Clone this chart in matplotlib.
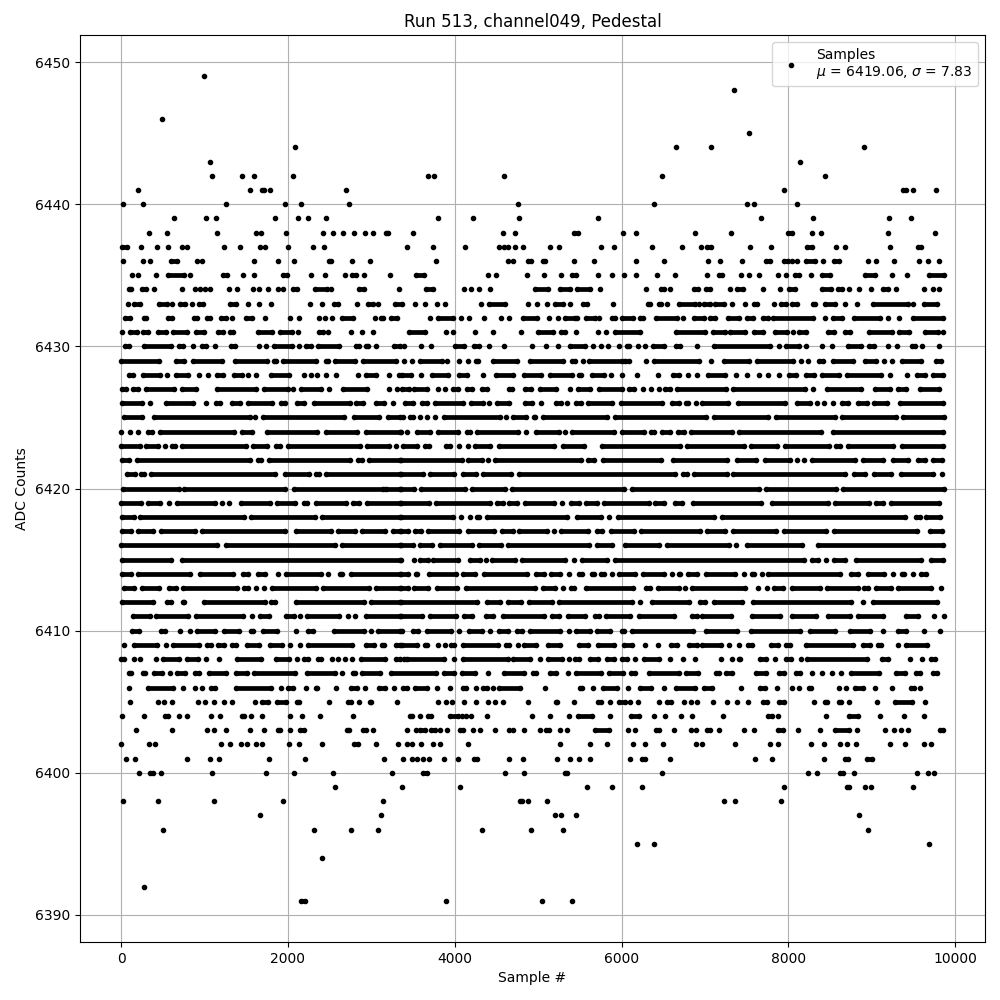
import matplotlib
matplotlib.use('Agg')
import matplotlib.pyplot as plt

# Samples read off per ADC level. A plain int is one isolated sample,
# a tuple (first, last) is a stretch where the samples overlap into a solid bar.
row_6449 = [990]
row_6448 = [7353]
row_6446 = [487]
row_6445 = [7532]
row_6444 = [2090, 6658, 7077, 8908]
row_6443 = [1060, 8143]
row_6442 = [1085, 1445, 1590, 2065, 3680, 3755, 4590, 6490, 8442]
row_6441 = [200, 1540, (1690, 1715), 1780, 2690, 7950, (9380, 9407), 9495, 9770]
row_6440 = [20, 260, 1253, 1970, 2160, 2735, 4760, 6383, 7508, 7592, 8107]
row_6439 = [630, 1013, 1133, 1840, 2115, 2235, 2460, 3800, 4220, 4770, 5713, 7676, 8298, 9208, 9471]
row_6438 = [332, 548, 1148, 1620, 1680, 1976, 2420, 2540, 2660, 2792, 2924, 3020, (3172, 3204), 3500, 4580,
            4724, (5433, 5481), 6012, 6168, 6886, 7317, (8000, 8047), 8286, 8386, 9196, 9759]
row_6437 = [(16, 72), 236, 424, 560, 728, 788, 1236, 1424, 1664, 1724, 2000, 2300, 2432, 3428, 3740, 4124,
            4532, 4588, 4640, 4724, 4824, 5138, 5246, 5749, 5904, 6359, 6730, 6958, (7030, 7070), 7544, 7795,
            (8226, 8286), 8574, 8681, 9220, (9555, 9595)]
row_6436 = [20, 260, 344, (596, 664), 908, 968, 1592, 1884, 2072, (2492, 2520), 2768, 2984, 3776, 4640, 4700,
            4880, 4915, (5054, 5086), 5425, 5665, 6168, 6503, 7041, 7185, 7448, (7736, 7783), (7947, 8000),
            8047, 8107, (8206, 8318), 8418, (8550, 8605), 8957, 9056, 9268, 9567, 9675, 9806]
row_6435 = [128, 200, 416, (560, 748), 824, (1220, 1268), 1460, 1592, (1940, 1988), 2276, 2444, 2684,
            (2768, 2816), 2912, 3224, (3536, 3632), 4400, 4496, 4868, 5064, 5268, (5400, 5452), 5712, 5880, 6024,
            6168, 6420, 6640, 7020, (7172, 7200), 7428, 7524, 7644, 7872, 7968, (8076, 8124), 8268, (8400, 8500),
            (8920, 9040), 9240, 9420, (9684, 9864)]
row_6434 = [(92, 116), (248, 296), 392, 728, 884, 948, 1000, 1060, 1292, 1388, 1580, 1652, 1760, 1880, 1940,
            (2060, 2108), (2324, 2468), 2516, (2852, 2912), 3332, (3652, 3740), 4112, 4196, 4292, 4424,
            (4964, 5116), (5256, 5376), (5460, 5616), 5736, 6288, (6468, 6504), 6576, (6864, 6912), (7008, 7064),
            7296, (7380, 7452), 7692, 7896, (8004, 8076), (8400, 8508), (8592, 8640), 8724, 8844, 8988,
            (9132, 9192), 9288, 9628, 9732, 9804]
row_6433 = [80, (152, 224), (452, 548), 608, (704, 764), 848, (932, 980), (1304, 1376), 1520, 1656, 1796, 2264,
            2408, (2552, 2600), 2828, (2960, 3020), 3080, (3288, 3372), 3524, 3644, 3788, 3884, 4316,
            (4412, 4604), 4880, 4980, 5100, (5196, 5292), 5376, (5532, 5580), 5892, (6312, 6336), (6444, 6468),
            6540, (6684, 6880), 6924, (6984, 7056), (7116, 7224), 7320, 7476, (7584, 7620), 7824, (7908, 7968),
            (8040, 8100), (8292, 8324), (8436, 8556), 8676, 8820, (9012, 9432), 9492, (9624, 9780)]
row_6432 = [(44, 108), (272, 304), (560, 604), (872, 908), (1032, 1068), (1196, 1252), 1328, (1496, 1568), 1724,
            2020, 2132, 2372, 2444, 2528, (2648, 2780), 3044, (3116, 3140), (3240, 3308), 3704, (3800, 3980),
            4080, 4172, 4348, 4552, 4652, (4820, 4980), 5124, 5232, (5316, 5436), 5460, (5568, 5676), 5724,
            (5880, 5916), (6000, 6132), (6216, 6252), (6408, 6660), 6732, (6864, 6984), (7056, 7116),
            (7272, 7404), (7500, 7572), (7692, 7752), (7812, 8292), 8436, (8532, 8640), (8784, 9100), 9192, 9324,
            (9492, 9852)]
row_6431 = [8, (108, 188), (260, 320), (440, 532), (620, 788), (896, 988), (1164, 1220), (1304, 1340),
            (1640, 1812), (1904, 2052), 2120, (2372, 2420), 2480, 2756, 2888, 3020, (3452, 3644), 3896, 3980, 4244,
            4464, 4800, (5000, 5180), (5268, 5316), 5448, 5712, 5808, (5916, 6216), (6648, 6996), (7092, 7236),
            (7296, 7476), (7584, 7692), (7836, 7980), 8052, (8124, 8208), (8472, 8544), (8676, 8736),
            (8964, 9240), (9324, 9452), (9636, 9792), 9852]
row_6430 = [(52, 96), (280, 596), (696, 740), 860, (972, 1016), 1124, (1312, 1364), 1656, 1740, (1828, 2048),
            2132, (2212, 2280), (2364, 2612), (2812, 2848), (2932, 2956), 3052, (3272, 3340), 3396, 3600, 3712,
            (4008, 4116), (4236, 4292), 4416, 4588, 4924, 5088, 5236, (5376, 5556), 5656, 5756, 5836, 5964,
            (6060, 6084), 6196, 6284, (6376, 6512), (6656, 6704), 6908, (7112, 7784), 7892, (7968, 8128), 8216,
            8408, 8520, (8712, 8876), (8972, 9028), 9192, 9308, (9480, 9516), 9604, 9808]
row_6429 = [(0, 448), (660, 756), (864, 1208), (1368, 1748), (1832, 1856), (1944, 2336), (2460, 2476),
            (2564, 2808), (2900, 3296), 3396, 3488, (3588, 3844), 3908, 4056, 4160, (4256, 4284), (4456, 4752),
            (4900, 5296), (5400, 5444), 5532, (5608, 6004), (6036, 6088), 6288, (6388, 6924), 7076, (7228, 7528),
            (7620, 8056), 8148, 8236, (8368, 8416), (8532, 8776), (8920, 9056), 9148, 9248, (9360, 9584),
            (9768, 9824)]
row_6428 = [(92, 140), (268, 468), 548, (660, 796), 932, 1044, (1152, 1220), (1348, 1452), 1524, 1612,
            (1792, 2008), 2192, 2276, 2352, 2460, 2576, 2840, (2932, 3060), 3208, 3332, (3368, 3472), 3596,
            (3728, 3924), (4056, 4144), 4336, (4496, 4704), (4832, 5032), (5136, 5404), (5488, 5516),
            (5640, 5784), 5872, 6000, 6184, 6436, (6620, 6684), 6800, 6908, (7032, 7244), 7372, 7500, 7648, 7756,
            7888, (8012, 8096), (8208, 8308), (8408, 8604), (8700, 9116), 9220, 9420, (9540, 9636), (9728, 9848)]
row_6427 = [(12, 56), (140, 208), (300, 636), (732, 896), (1148, 1620), (1716, 1996), 2060, (2160, 2396), 2492,
            (2664, 2948), 3208, 3308, (3368, 3456), (3516, 3672), 3796, 3880, (3980, 4044), (4148, 4204),
            (4328, 4392), (4656, 4684), (4848, 4920), (5016, 5212), 5384, (5480, 5624), (5728, 6004), (6088, 6152),
            6256, 6356, 6448, (6524, 6584), (6668, 7256), (7340, 8196), 8300, (8460, 8876), (9040, 9216),
            (9312, 9416), (9580, 9804)]
row_6426 = [(12, 256), 352, (532, 860), 1012, (1132, 1180), (1332, 1420), (1524, 1808), (1920, 1968),
            (2112, 2196), (2316, 2748), (2820, 2900), (3052, 3156), 3264, (3400, 3496), (3608, 3672), (3760, 4096),
            (4196, 4344), 4408, (4508, 4652), (4848, 4924), 5032, (5208, 5272), 5344, (5456, 5512), (5600, 5884),
            (5988, 6484), (6600, 6684), (6768, 6792), 6888, (6960, 7276), (7392, 7956), (8100, 8256), 8348, 8432,
            8540, (8648, 8716), (8840, 8944), (9032, 9184), (9340, 9848)]
row_6425 = [(36, 248), (400, 1540), 1604, (1696, 2676), (2796, 3088), (3200, 3340), 3384, (3464, 3504), 3580,
            3664, 3760, (3868, 4544), 4616, (4696, 4856), (4948, 4964), (5056, 5824), (5916, 7016), (7112, 7756),
            (7848, 8556), (8640, 9296), (9380, 9864)]
row_6424 = [4, 112, 200, (324, 368), (464, 1348), (1444, 1568), (1744, 2348), (2460, 2828), (2940, 3340), 3356,
            3432, (3548, 3704), (3800, 4044), (4148, 4184), (4268, 4764), 4856, (4968, 5244), 5324, (5408, 5904),
            (6008, 6264), (6348, 6384), (6480, 6584), (6680, 6744), (6828, 7328), (7408, 8396), (8532, 9856)]
row_6423 = [(4, 228), (304, 440), 528, (612, 648), (732, 1500), (1580, 1748), (1860, 1908), (2004, 2868),
            (2952, 3208), 3300, (3380, 3544), (3648, 3692), (3900, 3944), 4048, 4156, (4248, 4424), (4528, 5184),
            (5300, 5544), (5768, 6704), (6788, 7468), (7548, 7864), (7960, 8484), (8572, 8616), (8712, 9256),
            (9360, 9856)]
row_6422 = [(12, 92), (192, 1548), (1636, 1676), (1772, 2740), (2836, 2888), (2972, 3340), (3356, 4084),
            (4160, 4324), 4404, (4488, 5512), (5600, 5664), (5780, 6472), (6620, 7264), (7380, 7616), (7720, 8016),
            8108, 8184, (8288, 8796), (8900, 9136), (9252, 9436), (9552, 9636), (9728, 9836)]
row_6421 = [(72, 168), (244, 280), (360, 1848), (1960, 2248), (2340, 2368), (2460, 3340), (3356, 3624),
            (3708, 3992), (4096, 4256), (4344, 4672), (4776, 6644), (6736, 6784), (6868, 7264), (7340, 8676),
            (8788, 8924), (9028, 9236), (9352, 9736), 9840]
row_6420 = [(20, 688), (752, 1968), (2072, 3140), (3172, 3340), (3356, 3512), (3600, 4124), (4208, 4604),
            (4688, 6024), (6128, 7648), (7736, 8576), (8660, 9864)]
row_6419 = [(4, 236), (324, 468), 568, (664, 1128), 1204, 1288, (1432, 1788), (1872, 2088), (2192, 2228),
            (2340, 2700), (2780, 2850), (2952, 3340), (3356, 3696), (3776, 4424), (4508, 4576), (4656, 4752),
            (4848, 5184), 5284, (5388, 5484), (5568, 5704), (5788, 6324), (6400, 6504), (6636, 6724), (6856, 7676),
            (7800, 8476), (8560, 8964), (9052, 9136), (9232, 9808)]
row_6418 = [(12, 156), (232, 1468), (1552, 2328), (2404, 3340), (3356, 3976), 4076, 4180, (4268, 4292),
            (4388, 5344), (5468, 5752), 5848, (5960, 7108), (7208, 9396), (9528, 9576), (9652, 9816)]
row_6417 = [(12, 120), (204, 380), (472, 888), (964, 1960), (2092, 2516), (2604, 2800), (2892, 3168),
            (3264, 3340), (3356, 3444), (3528, 3592), (3680, 4056), (4160, 4472), (4568, 4704), (4768, 5104), 5188,
            (5272, 5596), (5700, 5764), (5868, 6144), (6236, 6936), (7020, 7236), (7332, 7856), (7952, 8448),
            (8544, 9544), (9700, 9836)]
row_6416 = [(4, 1148), (1260, 2560), (2644, 3340), (3356, 3504), (3588, 3724), (3828, 4204), (4296, 4552),
            (4640, 5604), (5700, 5884), (6040, 6444), (6548, 7288), 7372, (7500, 8168), (8360, 9856)]
row_6415 = [(12, 596), (732, 3340), 3360, 3516, (3580, 3676), (3740, 4044), (4188, 4304), 4376, (4448, 4724),
            (4808, 5324), 5424, (5528, 5824), (5916, 8188), (8288, 8356), 8456, (8544, 8676), (8808, 9588),
            (9708, 9856)]
row_6414 = [(12, 120), (204, 828), (940, 1340), (1464, 1520), (1644, 1728), 1880, (1972, 2396), 2480, (2620, 2648),
            (2760, 3340), (3356, 3436), (3536, 3552), (3688, 4016), (4100, 4244), (4348, 4872), (4968, 5064),
            (5148, 5264), 5368, (5488, 5524), (5648, 5664), (5756, 5788), 5884, (5968, 6164), (6256, 6512), 6604,
            (6688, 6704), (6800, 6904), (7008, 7364), 7464, (7560, 7584), 7680, (7760, 8616), (8748, 8836),
            (8952, 9144), 9252, (9364, 9384), 9488, (9588, 9644)]
row_6413 = [(36, 160), (252, 452), (572, 656), (744, 1388), (1476, 1516), 1612, 1708, (1812, 2336), (2420, 2968),
            (3060, 3340), (3356, 3436), (3516, 3684), (3788, 4024), (4136, 4964), (5060, 5204), 5296, (5388, 5432),
            (5576, 6136), (6288, 6344), (6440, 6684), 6764, (6848, 7476), 7640, 7748, (7832, 7936), (8040, 8376),
            (8460, 8836), (8912, 8956), (9048, 9236), (9312, 9704), 9824]
row_6412 = [(12, 380), (552, 596), (744, 756), (996, 1728), (1800, 1840), (2100, 2908), (2992, 3340), (3356, 4264),
            (4388, 4544), (4640, 4792), (4896, 5164), (5248, 6124), 6216, (6360, 6804), (6940, 7004), (7112, 7444),
            (7572, 8756), 8900, (9012, 9776)]
row_6411 = [(144, 348), (420, 796), (900, 1460), 1564, (1664, 1768), (1972, 2068), 2148, (2232, 2608), 2720, 2804,
            (2940, 3340), (3356, 3604), (3708, 4016), (4112, 4204), (4376, 4464), (4580, 5064), (5160, 5244),
            (5360, 5564), (5676, 5724), (5816, 6104), (6208, 6624), (6848, 6904), (6968, 7316), (7560, 7896),
            (8040, 8336), (8480, 8736), (8840, 9136), (9408, 9556), 9744, 9860]
row_6410 = [(132, 212), (480, 528), 704, 824, (912, 1128), (1232, 1408), (1556, 1584), (1704, 1868), 2100,
            (2244, 2300), (2552, 2908), 2992, (3084, 3340), 3364, (3496, 3564), (3668, 3952), 4056, (4168, 4324),
            4420, (4528, 4644), (4748, 4804), (4908, 5256), 5364, (5448, 5624), (5708, 5864), (6008, 6024),
            (6128, 6860), (7012, 7388), (7548, 8144), (8260, 8556), (8740, 8976), 9140, (9320, 9408), 9620, 9812]
row_6409 = [32, (156, 428), 540, (624, 928), (1032, 1076), (1164, 1228), (1324, 1376), (1512, 1648), (1784, 1928),
            2024, 2140, (2244, 2768), (2940, 3028), (3124, 3148), (3300, 3340), (3368, 3544), (3648, 3672), 3796,
            3880, (3960, 3992), (4100, 4524), (4616, 4656), 4756, (4828, 4976), (5116, 5264), (5488, 5592),
            (5716, 5904), (6028, 6124), 6284, 6436, (6588, 6664), (6808, 6904), (6968, 7196), 7288, 7412,
            (7520, 7568), (7792, 7876), (7976, 8016), (8208, 8776), (8900, 8984), (9072, 9116), 9320, (9408, 9664)]
row_6408 = [(0, 32), 156, 224, 420, (504, 688), (792, 916), 1020, 1176, (1392, 1680), (1860, 2008), 2112,
            (2196, 2236), (2364, 2396), 2532, 2596, 2680, 2772, (2880, 3168), (3300, 3340), 3392, (3428, 3876),
            3996, (4100, 4640), (4700, 4900), 5020, (5116, 5280), 5368, (5444, 5492), (5620, 5712), (5824, 5908),
            (6004, 6068), 6160, (6272, 6444), 6576, 6736, 6876, 7188, 7320, (7404, 7420), (7664, 7728), 7844,
            (7972, 8028), 8148, (8228, 8940), (9124, 9192), 9460, 9600, (9704, 9760)]
row_6407 = [(96, 116), (268, 284), (396, 488), 584, (672, 768), (880, 928), (1056, 1252), (1380, 1512), (1596, 2088),
            (2232, 2568), 2648, (2784, 2800), (2892, 3100), (3240, 3780), (3876, 3996), (4092, 4240), 4400,
            (4592, 4828), (4932, 4972), (5144, 5208), 5352, (5452, 5748), (5844, 6012), (6116, 6156), (6324, 6684),
            (6772, 6912), (7132, 7164), (7248, 7320), (7612, 7732), (7892, 7948), (8092, 8140), 8280, 8400, 8520,
            8636, (8752, 9092), (9292, 9400), (9524, 9572), (9732, 9780)]
row_6406 = [96, (324, 616), 740, 880, 968, (1080, 1124), (1376, 1796), 1916, (2004, 2060), 2220, (2332, 2348), 2580,
            (2760, 2828), 2924, (3092, 3168), 3272, (3380, 3428), (3524, 3668), 3788, 3944, (4104, 4136), 4256,
            (4344, 4388), 4460, (4532, 4788), 5076, (5496, 5528), 5652, (5776, 5948), 6080, (6216, 6348), 6508,
            (6656, 6880), (6984, 7080), 7428, (7660, 7716), 7860, 8040, 8124, (8244, 8272), 8604, 8688, (8796, 8892),
            9036, 9240, (9468, 9508), 9580]
row_6405 = [104, 444, 516, 612, 920, 1000, 1112, 1232, 1332, 1604, (1684, 1760), (1872, 1980), (2112, 2132), 2492,
            (2724, 2756), 2852, (2984, 2996), 3312, 3804, 3900, 3968, 4116, 4256, 4404, 4484, 4580, 4880,
            (5212, 5228), 5424, (5712, 5748), 5856, (5964, 6040), 6104, 6192, 6444, (6544, 6588), 6748, 6828, 6900,
            7092, 7264, 7384, 7516, (7696, 7740), (7892, 7944), 8304, (8440, 8460), (8608, 8628), 8728, 9064,
            (9276, 9480), 9636]
row_6404 = [8, 272, (528, 560), 692, 788, 1076, 1184, (1444, 1476), 1556, 1688, 2024, 2168, 2384, 2780, (3468, 3492),
            3584, (3680, 3712), (3948, 4040), 4092, 4140, 4200, 4388, 4928, 5136, 5364, (5476, 5640), 5856,
            (6112, 6212), 6392, 6516, 6712, 6840, 7212, (7752, 7800), 7872, 8448, (8724, 8832), 9096, 9384, 9628]
row_6403 = [176, 608, 1028, 1112, 1256, 1544, 1712, (1880, 1904), 2024, (2140, 2188), (2708, 2736), (2900, 2932), 3024,
            3428, 3536, (3580, 3640), (3720, 3760), 3824, 3908, (4060, 4100), 4220, 4304, 4484, 4652, 4700, 4832, 5016,
            (5092, 5132), 5264, 5340, (5680, 5844), 6080, 6156, (6412, 6452), 6628, 6828, 6896, (7024, 7064), 7164,
            7464, 7584, (7872, 7932), 8112, 8376, (8564, 8732), 8820, 9156, 9264, 9348, 9432, (9820, 9852)]
row_6402 = [0, 332, 404, 1196, 1304, 1436, 1508, 1616, 1688, 2012, 2132, 2408, (2792, 2840), 3056, 3320, 3428, 3488,
            3596, 3740, 3824, 4160, 5256, 5616, 5820, 6132, 6276, 6492, 6888, 6960, 7356, 7776, 7872, 8268, 8424,
            8616, 8700, 8808, 9216, 9396, 9624, 9708]
row_6401 = [56, 168, 788, 1064, 1172, 1772, 2204, 3152, 3380, 3488, 3548, 3620, 3692, 3872, 4040, (4232, 4268), 4652,
            4820, 5220, 5376, 5484, 5616, 6104, (6240, 6284), 6576, 7596, 7800, 8424, (8676, 8716), (8940, 9000)]
row_6400 = [212, (348, 388), 476, 1088, 1736, 2072, 2540, 3248, (3620, 3672), 4604, 4832, (5316, 5344), 6480, 8232, 8340,
            (8624, 8652), 8784, 9540, 9672, 9744]
row_6399 = [2564, 3368, 4064, 5580, 5880, 6240, 7944, (8704, 8732), 8916, 8988, 9492]
row_6398 = [20, 440, 1112, 1940, 3140, (4780, 4808), 4880, 5100, 7224, 7356, 7908]
row_6397 = [1664, 3116, 5196, 5268, 5448, 8844]
row_6396 = [500, 2312, 2756, 3080, 4328, 4920, 5292, 8952]
row_6395 = [6180, 6384, 9684]
row_6394 = [2408]
row_6392 = [272]
row_6391 = [(2156, 2208), 3896, 5040, 5400]

rows = {6449: row_6449, 6448: row_6448, 6446: row_6446, 6445: row_6445, 6444: row_6444, 6443: row_6443,
        6442: row_6442, 6441: row_6441, 6440: row_6440, 6439: row_6439, 6438: row_6438, 6437: row_6437,
        6436: row_6436, 6435: row_6435, 6434: row_6434, 6433: row_6433, 6432: row_6432, 6431: row_6431,
        6430: row_6430, 6429: row_6429, 6428: row_6428, 6427: row_6427, 6426: row_6426, 6425: row_6425,
        6424: row_6424, 6423: row_6423, 6422: row_6422, 6421: row_6421, 6420: row_6420, 6419: row_6419,
        6418: row_6418, 6417: row_6417, 6416: row_6416, 6415: row_6415, 6414: row_6414, 6413: row_6413,
        6412: row_6412, 6411: row_6411, 6410: row_6410, 6409: row_6409, 6408: row_6408, 6407: row_6407,
        6406: row_6406, 6405: row_6405, 6404: row_6404, 6403: row_6403, 6402: row_6402, 6401: row_6401,
        6400: row_6400, 6399: row_6399, 6398: row_6398, 6397: row_6397, 6396: row_6396, 6395: row_6395,
        6394: row_6394, 6392: row_6392, 6391: row_6391}

mean_adc = 6419.06
sigma_adc = 7.83

xs, ys = [], []
bar_y, bar_start, bar_end = [], [], []
for level, row in rows.items():
    for item in row:
        if isinstance(item, tuple):
            xs.extend(item)
            ys.extend([level, level])
            bar_y.append(level)
            bar_start.append(item[0])
            bar_end.append(item[1])
        else:
            xs.append(item)
            ys.append(level)

fig, ax = plt.subplots(figsize=(10, 10), dpi=100)
ax.plot(xs, ys, 'k.', label=f'Samples\n$\\mu$ = {mean_adc:.2f}, $\\sigma$ = {sigma_adc:.2f}')
ax.hlines(bar_y, bar_start, bar_end, colors='k', linewidth=3.4, zorder=2)
ax.set_title('Run 513, channel049, Pedestal', pad=5.5)
ax.set_xlabel('Sample #')
ax.set_ylabel('ADC Counts')
ax.grid(True)
ax.legend(loc='upper right')
fig.subplots_adjust(left=0.08, right=0.985, top=0.965, bottom=0.058)
fig.savefig('out.png')
